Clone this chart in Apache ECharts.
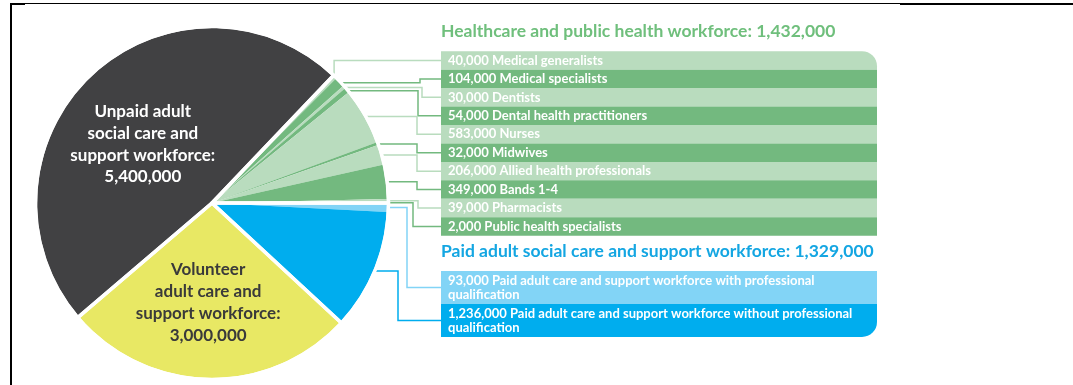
<!DOCTYPE html>
<html>
<head>
<meta charset="utf-8">
<script src="https://cdn.jsdelivr.net/npm/echarts@6/dist/echarts.min.js"></script>
<style>
  html, body { margin: 0; padding: 0; background: #ffffff; }
  #chart { width: 1073px; height: 385px; }
</style>
</head>
<body>
<div id="chart"></div>
<script>
// Workforce breakdown
const healthNames = [
  'Medical generalists', 'Medical specialists', 'Dentists', 'Dental health practitioners',
  'Nurses', 'Midwives', 'Allied health professionals', 'Bands 1-4', 'Pharmacists',
  'Public health specialists'
];
const healthValues = [40000, 104000, 30000, 54000, 583000, 32000, 206000, 349000, 39000, 2000];

const paidNames = [
  'Paid adult care and support workforce with professional qualification',
  'Paid adult care and support workforce without professional qualification'
];
const paidValues = [93000, 1236000];

const volunteerLabel = 'Volunteer\nadult care and\nsupport workforce:';
const volunteerValue = 3000000;
const unpaidLabel = 'Unpaid adult\nsocial care and\nsupport workforce:';
const unpaidValue = 5400000;

const groupTitles = [
  'Healthcare and public health workforce: 1,432,000',
  'Paid adult social care and support workforce: 1,329,000'
];

// Styling
const FONT = 'Lato';
const C = {
  dark: '#414143', yellow: '#e8e864',
  greenLight: '#b9dcbe', greenDark: '#73b97f',
  blueLight: '#82d4f6', blue: '#00adee',
  greenTitle: '#6fbf7c', blueTitle: '#14a6e2'
};
const CX = 212, CY = 203, R = 175;
const ROW_X = 441, ROW_W = 436, ROW_FONT = 13;
const GREEN_TOP = 51.2, GREEN_H = 18.45;
const BLUE_ROWS = [[271, 33], [304, 33]];
// horizontal position of each connector's vertical step (null = step right at the slice)
const healthElbow = [null, 420, 422, 418, 417, 417, 417, 417, 418, 413];
const paidElbow = [407, 398];

const fmt = v => String(v).replace(/\B(?=(\d{3})+(?!\d))/g, ',');

const data = [];
healthNames.forEach((n, i) => {
  const col = i % 2 === 0 ? C.greenLight : C.greenDark;
  data.push({
    name: n, value: healthValues[i],
    itemStyle: { color: col },
    labelLine: { show: true, lineStyle: { color: col, width: 1.5 } },
    label: {
      show: true, position: 'outside',
      formatter: p => fmt(p.value) + ' ' + p.name,
      color: '#ffffff', fontFamily: FONT, fontWeight: 'bold', fontSize: ROW_FONT,
      backgroundColor: col, width: ROW_W - 7, height: GREEN_H, lineHeight: GREEN_H,
      padding: [0, 0, 0, 7], align: 'left', verticalAlign: 'middle',
      borderRadius: i === 0 ? [0, 15, 0, 0] : 0
    }
  });
});
paidNames.forEach((n, i) => {
  const col = i === 0 ? C.blueLight : C.blue;
  data.push({
    name: n, value: paidValues[i],
    itemStyle: { color: col },
    labelLine: { show: true, lineStyle: { color: col, width: 1.5 } },
    label: {
      show: true, position: 'outside',
      formatter: p => fmt(p.value) + ' ' + p.name,
      color: '#ffffff', fontFamily: FONT, fontWeight: 'bold', fontSize: ROW_FONT,
      backgroundColor: col, width: ROW_W - 7 - 10, height: BLUE_ROWS[i][1] - 5,
      lineHeight: 14, overflow: 'break',
      padding: [3, 10, 2, 7], align: 'left', verticalAlign: 'middle',
      borderRadius: i === 1 ? [0, 0, 15, 0] : 0
    }
  });
});
data.push({
  name: volunteerLabel, value: volunteerValue,
  itemStyle: { color: C.yellow },
  labelLine: { show: false },
  label: {
    show: true, position: 'inside',
    formatter: p => p.name + '\n' + fmt(p.value),
    color: '#3a3a3a', fontFamily: FONT, fontWeight: 'bold', fontSize: 17, lineHeight: 21.7,
    align: 'center'
  }
});
data.push({
  name: unpaidLabel, value: unpaidValue,
  itemStyle: { color: C.dark },
  labelLine: { show: false },
  label: {
    show: true, position: 'inside',
    formatter: p => p.name + '\n' + fmt(p.value),
    color: '#ffffff', fontFamily: FONT, fontWeight: 'bold', fontSize: 17, lineHeight: 21.7,
    align: 'center'
  }
});

const sum = a => a.reduce((s, v) => s + v, 0);
// group outlines drawn on top so the four groups are separated by white gaps
const groups = [sum(healthValues), sum(paidValues), volunteerValue, unpaidValue];
const startAngle = 46.4;

const nH = healthNames.length;

const chart = echarts.init(document.getElementById('chart'), null, { renderer: 'canvas' });
chart.setOption({
  backgroundColor: '#ffffff',
  animation: false,
  series: [
    {
      type: 'pie',
      center: [CX, CY],
      radius: R,
      startAngle: startAngle,
      clockwise: true,
      avoidLabelOverlap: false,
      minShowLabelAngle: 0,
      silent: true,
      labelLine: { show: true, smooth: false, length: 10, length2: 10 },
      data: data,
      labelLayout: function (p) {
        const i = p.dataIndex;
        if (i >= nH + 2) {
          return i === nH + 2 ? { dx: -2, dy: 9 } : { dx: -7, dy: 7 };
        }
        let y, ex;
        if (i < nH) {
          y = GREEN_TOP + GREEN_H * (i + 0.5);
          ex = healthElbow[i];
        } else {
          const r = BLUE_ROWS[i - nH];
          y = r[0] + r[1] / 2;
          ex = paidElbow[i - nH];
        }
        const p0 = p.labelLinePoints ? p.labelLinePoints[0] : [ROW_X, y];
        if (ex === null) ex = p0[0];
        return {
          x: ROW_X, y: y, align: 'left', verticalAlign: 'middle',
          labelLinePoints: [p0, [ex, p0[1]], [ex, y], [ROW_X, y]]
        };
      }
    },
    {
      type: 'pie',
      center: [CX, CY],
      radius: R + 1.5,
      startAngle: startAngle,
      clockwise: true,
      silent: true,
      label: { show: false },
      labelLine: { show: false },
      itemStyle: { color: 'rgba(0,0,0,0)', borderColor: '#ffffff', borderWidth: 3.5 },
      data: groups.map(v => ({ value: v }))
    }
  ],
  graphic: [
    {
      type: 'text', left: ROW_X, top: 22,
      style: { text: groupTitles[0], fill: C.greenTitle, font: 'bold 17.5px ' + FONT }
    },
    {
      type: 'text', left: ROW_X, top: 242,
      style: { text: groupTitles[1], fill: C.blueTitle, font: 'bold 17.5px ' + FONT }
    },
    // frame
    { type: 'rect', shape: { x: 10, y: 3, width: 2, height: 382 }, style: { fill: '#000' } },
    { type: 'rect', shape: { x: 10, y: 3, width: 1063, height: 1 }, style: { fill: '#000' } },
    { type: 'rect', shape: { x: 10, y: 3, width: 15, height: 2 }, style: { fill: '#000' } },
    { type: 'rect', shape: { x: 900, y: 3, width: 173, height: 2 }, style: { fill: '#000' } }
  ]
});
</script>
</body>
</html>
